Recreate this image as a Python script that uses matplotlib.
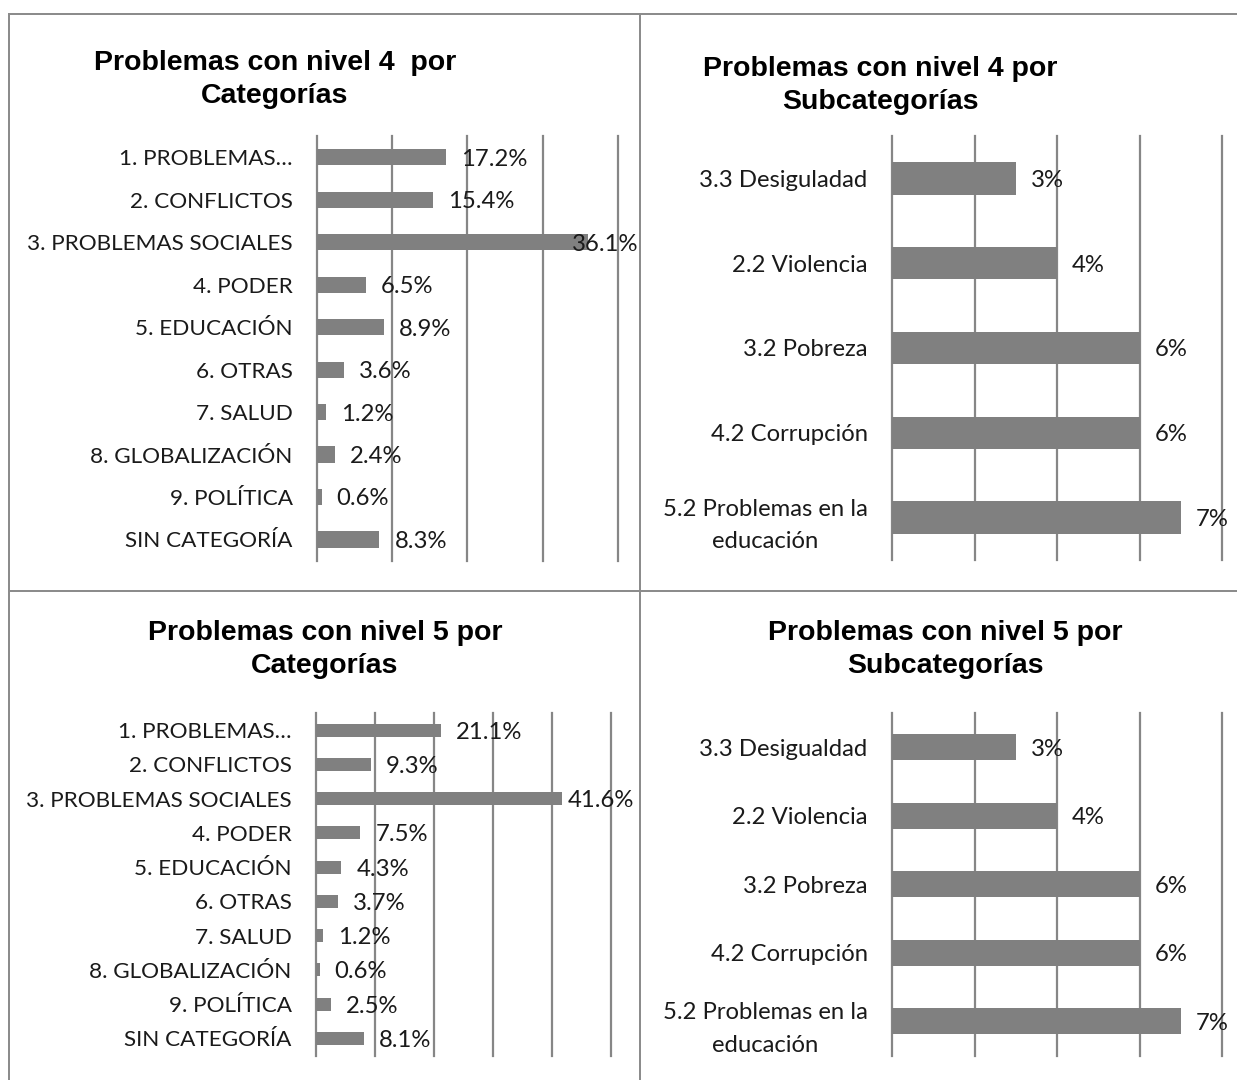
import matplotlib
matplotlib.use('Agg')
import matplotlib.pyplot as plt
from matplotlib.lines import Line2D

W, H, DPI = 1237, 1080, 100

# ---------------- data ----------------
cat_labels = ["1. PROBLEMAS…", "2. CONFLICTOS", "3. PROBLEMAS SOCIALES", "4. PODER",
              "5. EDUCACIÓN", "6. OTRAS", "7. SALUD", "8. GLOBALIZACIÓN",
              "9. POLÍTICA", "SIN CATEGORÍA"]
nivel4_cat = [17.2, 15.4, 36.1, 6.5, 8.9, 3.6, 1.2, 2.4, 0.6, 8.3]
nivel5_cat = [21.1, 9.3, 41.6, 7.5, 4.3, 3.7, 1.2, 0.6, 2.5, 8.1]

sub4_labels = ["3.3 Desiguladad", "2.2 Violencia", "3.2 Pobreza", "4.2 Corrupción",
               "5.2 Problemas en la\neducación"]
sub5_labels = ["3.3 Desigualdad", "2.2 Violencia", "3.2 Pobreza", "4.2 Corrupción",
               "5.2 Problemas en la\neducación"]
nivel4_sub = [3, 4, 6, 6, 7]
nivel5_sub = [3, 4, 6, 6, 7]

titles = [("Problemas con nivel 4  por", "Categorías"),
          ("Problemas con nivel 4 por", "Subcategorías"),
          ("Problemas con nivel 5 por", "Categorías"),
          ("Problemas con nivel 5 por", "Subcategorías")]

# ---------------- style ----------------
BAR = "#808080"
GRID = "#868686"
BORDER = "#8c8c8c"
TXT = "#1a1a1a"
LABEL_FONT = ["Lato", "DejaVu Sans"]
TITLE_FONT = ["Liberation Sans", "DejaVu Sans"]
CAT_LSIZE = 16.2
SUB_LSIZE = 17.2
VSIZE = 17.2
TSIZE = 20.5

fig = plt.figure(figsize=(W / DPI, H / DPI), dpi=DPI)
fig.patch.set_facecolor("white")


def px_axes(x0, x1, y0, y1):
    return fig.add_axes([x0 / W, 1 - y1 / H, (x1 - x0) / W, (y1 - y0) / H])


panels = []


def panel(box, labels, values, xmax, step, fmt, limit_px, lsize):
    ax = px_axes(*box)
    n = len(values)
    pos = list(range(n))
    ax.barh(pos, values, height=0.38, color=BAR, zorder=2)
    ax.set_xlim(0, xmax)
    ax.set_ylim(n - 0.5, -0.5)
    ax.set_xticks([step * k for k in range(int(round(xmax / step)) + 1)])
    ax.set_xticklabels([])
    ax.tick_params(axis="x", length=0)
    ax.set_yticks(pos)
    ax.set_yticklabels(labels, fontfamily=LABEL_FONT, fontsize=lsize, color=TXT)
    for t in ax.get_yticklabels():
        t.set_multialignment("center")
        t.set_linespacing(1.7)
    ax.tick_params(axis="y", length=0, pad=17.5)
    ax.grid(axis="x", color=GRID, linewidth=1.6, zorder=1)
    ax.grid(axis="y", visible=False)
    for gl in ax.get_xgridlines():
        gl.set_clip_on(False)
    for s in ax.spines.values():
        s.set_visible(False)
    ax.set_facecolor("none")
    texts = []
    for i, v in enumerate(values):
        t = ax.annotate(fmt.format(v), xy=(v, i), xytext=(15 * 72 / DPI, 0),
                        textcoords="offset points", ha="left", va="center_baseline",
                        fontfamily=LABEL_FONT, fontsize=VSIZE, color=TXT, zorder=3,
                        annotation_clip=False)
        texts.append(t)
    panels.append((texts, limit_px))
    return ax


panel((317, 617.7, 136, 560.7), cat_labels, nivel4_cat, 40, 10, "{:.1f}%", 638, CAT_LSIZE)
panel((892, 1222, 136, 560), sub4_labels, nivel4_sub, 8, 2, "{:.0f}%", 1234, SUB_LSIZE)
panel((316, 611.5, 713, 1055.5), cat_labels, nivel5_cat, 50, 10, "{:.1f}%", 634, CAT_LSIZE)
panel((892, 1222, 713, 1055.5), sub5_labels, nivel5_sub, 8, 2, "{:.0f}%", 1234, SUB_LSIZE)

# titles
title_pos = [(275, 70, 103), (880, 76, 109), (325, 640, 673), (945, 640, 673)]
for (l1, l2), (cx, b1, b2) in zip(titles, title_pos):
    fig.text(cx / W, 1 - b1 / H, l1, ha="center", va="baseline", fontfamily=TITLE_FONT,
             fontsize=TSIZE, fontweight="bold", color="black")
    fig.text(cx / W, 1 - b2 / H, l2, ha="center", va="baseline", fontfamily=TITLE_FONT,
             fontsize=TSIZE, fontweight="bold", color="black")

# keep value labels inside their chart area
fig.canvas.draw()
renderer = fig.canvas.get_renderer()
for texts, limit in panels:
    for t in texts:
        bb = t.get_window_extent(renderer)
        over = bb.x1 - limit
        if over > 0:
            ox, oy = t.xyann
            t.xyann = (ox - over * 72 / DPI, oy)

# frame lines
lw = 2 * 72 / DPI
def fline(xs, ys):
    fig.add_artist(Line2D([x / W for x in xs], [1 - y / H for y in ys],
                          color=BORDER, linewidth=lw, transform=fig.transFigure))

fline([9, 1237], [14, 14])
fline([9, 9], [14, 1080])
fline([640, 640], [14, 1080])
fline([9, 1237], [590.5, 590.5])

fig.savefig("out.png", dpi=DPI, facecolor="white")
